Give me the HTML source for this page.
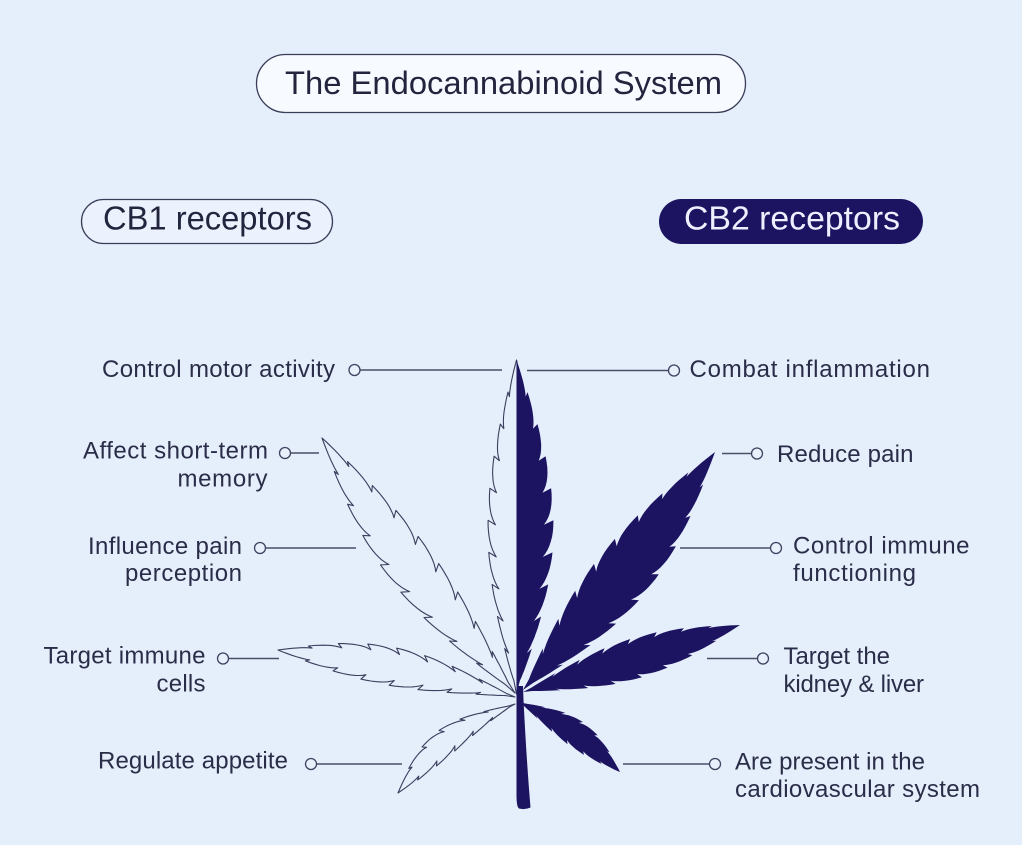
<!DOCTYPE html>
<html>
<head>
<meta charset="utf-8">
<style>
  html,body{margin:0;padding:0;background:#e5eefb;overflow:hidden;}
  svg{display:block;}
  text{font-family:"Liberation Sans",Arial,sans-serif;}
</style>
</head>
<body>
<svg width="1022" height="845" viewBox="0 0 1022 845" xmlns="http://www.w3.org/2000/svg">
  <defs>
    <clipPath id="cl"><rect x="0" y="0" width="517.5" height="845"/></clipPath>
    <clipPath id="cr"><rect x="516.5" y="0" width="520" height="845"/></clipPath>
  </defs>
  <rect width="1022" height="845" fill="#e5eefb"/>

  <!-- Title pill -->
  <rect x="256.5" y="54.5" width="489" height="58" rx="29" fill="#f7faff" stroke="#3a3d58" stroke-width="1.3"/>
  <text x="285" y="94" font-size="32.5" fill="#23253e" textLength="437" lengthAdjust="spacingAndGlyphs">The Endocannabinoid System</text>

  <!-- CB1 pill -->
  <rect x="81.5" y="199.5" width="251" height="44" rx="22" fill="#ecf2fd" stroke="#3a3d58" stroke-width="1.3"/>
  <text x="103" y="229.5" font-size="33" fill="#23253e" textLength="209" lengthAdjust="spacingAndGlyphs">CB1 receptors</text>

  <!-- CB2 pill -->
  <rect x="659" y="199" width="264" height="45" rx="22.5" fill="#1c1361"/>
  <text x="684" y="229.5" font-size="33" fill="#eef0ff" textLength="216" lengthAdjust="spacingAndGlyphs">CB2 receptors</text>

  <!-- Connectors -->
  <g stroke="#4a4f6a" stroke-width="1.4" fill="none">
    <line x1="360" y1="370" x2="502" y2="370"/>
    <line x1="290.5" y1="453" x2="319" y2="453"/>
    <line x1="265.5" y1="548" x2="356" y2="548"/>
    <line x1="228.5" y1="658.5" x2="279" y2="658.5"/>
    <line x1="316.5" y1="764" x2="402" y2="764"/>

    <line x1="527" y1="370.5" x2="668.5" y2="370.5"/>
    <line x1="722" y1="453.5" x2="751.5" y2="453.5"/>
    <line x1="680" y1="548" x2="770.5" y2="548"/>
    <line x1="707" y1="658.5" x2="757.5" y2="658.5"/>
    <line x1="623" y1="764" x2="709.5" y2="764"/>
  </g>
  <g stroke="#3e4360" stroke-width="1.3" fill="#e8f0fc">
    <circle cx="354.5" cy="370" r="5.5"/>
    <circle cx="285" cy="453" r="5.5"/>
    <circle cx="260" cy="548" r="5.5"/>
    <circle cx="223" cy="658.5" r="5.5"/>
    <circle cx="311" cy="764" r="5.5"/>

    <circle cx="674" cy="370.5" r="5.5"/>
    <circle cx="757" cy="453.5" r="5.5"/>
    <circle cx="776" cy="548" r="5.5"/>
    <circle cx="763" cy="658.5" r="5.5"/>
    <circle cx="715" cy="764" r="5.5"/>
  </g>

  <!-- Labels -->
  <g font-size="24" fill="#2a2d48">
    <text x="335" y="377" text-anchor="end" textLength="233">Control motor activity</text>
    <text x="268" y="458.3" text-anchor="end" textLength="185">Affect short-term</text>
    <text x="267.5" y="486.5" text-anchor="end" textLength="90">memory</text>
    <text x="242" y="554" text-anchor="end" textLength="154">Influence pain</text>
    <text x="242" y="581" text-anchor="end" textLength="117">perception</text>
    <text x="205.5" y="663.5" text-anchor="end" textLength="162">Target immune</text>
    <text x="205.5" y="691.5" text-anchor="end" textLength="49">cells</text>
    <text x="288" y="768.5" text-anchor="end" textLength="190">Regulate appetite</text>

    <text x="689.5" y="377" textLength="240.5">Combat inflammation</text>
    <text x="777" y="462" textLength="136.5">Reduce pain</text>
    <text x="793" y="553.5" textLength="176.5">Control immune</text>
    <text x="793" y="581" textLength="123">functioning</text>
    <text x="783.5" y="664" textLength="106.5">Target the</text>
    <text x="783.5" y="692" textLength="140.5">kidney &amp; liver</text>
    <text x="735" y="769.5" textLength="190">Are present in the</text>
    <text x="735" y="797" textLength="245">cardiovascular system</text>
  </g>

  <!-- Outlined leaves (CB1 side) -->
  <g fill="none" stroke="#3b3f5e" stroke-width="1.1" stroke-linejoin="round">
    <path id="L1" d="M515,693 L322,438 Z"/>
    <path id="L2" d="M515,697 L278,650 Z"/>
    <path id="L3" d="M515,704 L398,793 Z"/>
    <path id="T0" clip-path="url(#cl)" d="M516.5,694 L516.5,360 Z"/>
  </g>

  <!-- Filled leaves (CB2 side) -->
  <g fill="#1c1361">
    <path id="T1" clip-path="url(#cr)" d="M516.5,694 L553,530 L516.5,360 Z"/>
    <path id="R1" d="M523,690 L715,452 Z"/>
    <path id="R2" d="M523,692 L740,625 Z"/>
    <path id="R3" d="M519,702 L620,772 Z"/>
    <path d="M516.5,686 L516.5,795 Q516.5,807 519,808.5 Q525,810 530.5,807.5 Q526.5,760 523.5,700 L523,686 Z"/>
  </g>
</svg>

<script>
(function(){
  function leafPath(B,T,o){
    var wp=o.wp, wm=o.wm, bow=o.bow||0, p=o.p||1, n=o.n||8, k=o.k||0.75, a=o.a||0.04;
    var dx=T[0]-B[0], dy=T[1]-B[1], L=Math.hypot(dx,dy), ux=dx/L, uy=dy/L, nx=-uy, ny=ux;
    function f(t){ t=Math.min(Math.max(t,0),1); return Math.sin(Math.PI*Math.pow(t,p)); }
    function pt(t,off){ var oo=off+bow*Math.sin(Math.PI*t); return [B[0]+dx*t+nx*oo, B[1]+dy*t+ny*oo]; }
    function side(s,w){
      var pts=[], ts=[], i, j;
      for(i=0;i<=n;i++) ts.push(a+(1-a)*i/n);
      pts.push(pt(0,0));
      for(i=0;i<n;i++){
        var t0=ts[i], t1=ts[i+1], seg=t1-t0;
        var tn = (i===0)? t0 : t0-0.14*seg;
        var N=[tn, s*w*f(tn)*k];
        var P=(i===n-1)? [1,0] : [t1, s*w*f(t1)];
        var tc=tn+(P[0]-tn)*0.35;
        var C=[tc, s*w*f(tc)*1.02];
        for(j=0;j<=8;j++){
          var u=j/8;
          var tt=(1-u)*(1-u)*N[0]+2*u*(1-u)*C[0]+u*u*P[0];
          var oo=(1-u)*(1-u)*N[1]+2*u*(1-u)*C[1]+u*u*P[1];
          pts.push(pt(tt,oo));
        }
      }
      return pts;
    }
    var A=side(1,wp), M=side(-1,wm).reverse();
    var all=A.concat(M);
    return 'M'+all.map(function(q){return q[0].toFixed(1)+','+q[1].toFixed(1);}).join('L')+'Z';
  }
  function set(id,d){ var e=document.getElementById(id); if(e) e.setAttribute('d',d); }
  set('L1', leafPath([515,693],[322,438],{wp:24,wm:24,bow:-6.5,p:1.05,n:9,k:0.7}));
  set('L2', leafPath([515,697],[278,650],{wp:19,wm:19,bow:6,p:1.1,n:8,k:0.7}));
  set('L3', leafPath([515,704],[398,793],{wp:13,wm:13,bow:12,p:1.2,n:6,k:0.7}));
  var top=leafPath([516.5,694],[516.5,360],{wp:37,wm:28.5,bow:0,p:1,n:10,k:0.74});
  set('T0', top);
  set('T1', top);
  set('R1', leafPath([523,690],[715,452],{wp:29,wm:29,bow:5,p:1,n:9,k:0.78}));
  set('R2', leafPath([523,692],[740,625],{wp:20,wm:20,bow:1,p:1.05,n:8,k:0.78}));
  set('R3', leafPath([519,702],[620,772],{wp:13.5,wm:13.5,bow:-6.5,p:1.1,n:6,k:0.78}));
})();
</script>
</body>
</html>
